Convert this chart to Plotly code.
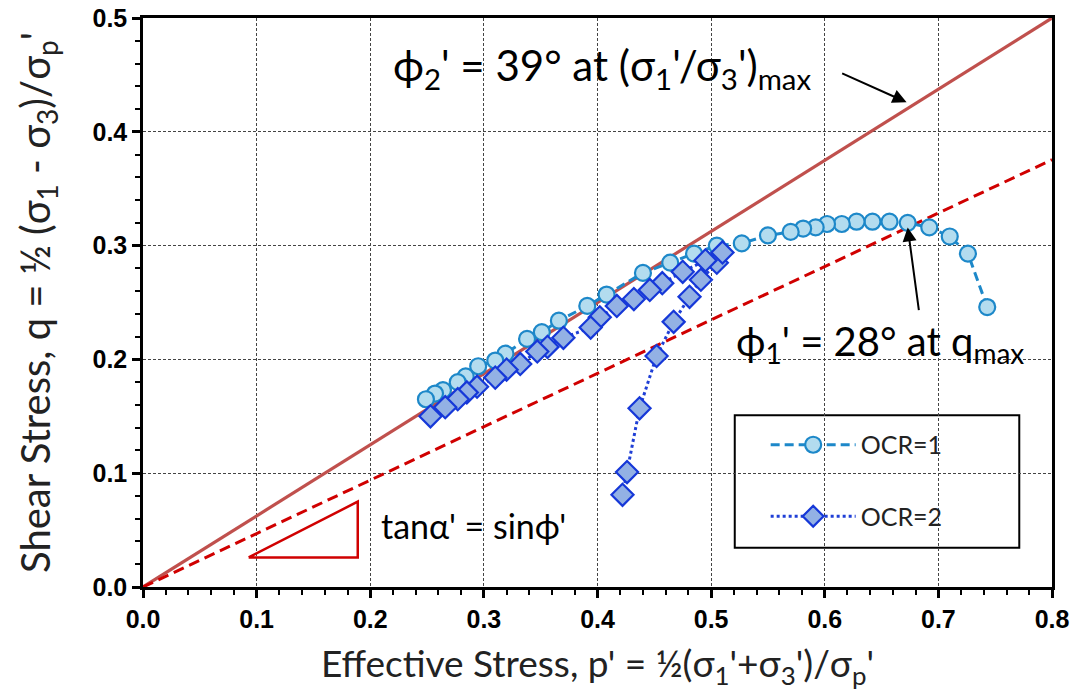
import plotly.graph_objects as go

# ---------------- data ----------------
ocr1_p = [0.743, 0.726, 0.710, 0.692, 0.673, 0.657, 0.642, 0.628, 0.615, 0.602, 0.592,
          0.581, 0.570, 0.550, 0.527, 0.505, 0.485, 0.464, 0.440, 0.408, 0.391, 0.366,
          0.351, 0.338, 0.319, 0.310, 0.295, 0.284, 0.277, 0.264, 0.257, 0.249]
ocr1_q = [0.246, 0.293, 0.308, 0.316, 0.320, 0.321, 0.321, 0.321, 0.319, 0.319, 0.316,
          0.315, 0.312, 0.309, 0.302, 0.300, 0.293, 0.285, 0.276, 0.257, 0.247, 0.234,
          0.224, 0.218, 0.205, 0.199, 0.194, 0.185, 0.180, 0.173, 0.170, 0.165]

ocr2_p = [0.422, 0.426, 0.437, 0.452, 0.467, 0.481, 0.491, 0.505, 0.510, 0.495, 0.475,
          0.457, 0.446, 0.432, 0.417, 0.402, 0.394, 0.370, 0.356, 0.347, 0.332, 0.320,
          0.310, 0.294, 0.285, 0.277, 0.266, 0.253]
ocr2_q = [0.081, 0.101, 0.157, 0.203, 0.233, 0.255, 0.270, 0.285, 0.294, 0.287, 0.277,
          0.267, 0.261, 0.253, 0.247, 0.237, 0.228, 0.219, 0.211, 0.207, 0.196, 0.191,
          0.184, 0.176, 0.171, 0.165, 0.158, 0.150]

env_p = [0.0, 0.8]
env2_q = [0.0, 0.5]     # phi2' = 39 deg line
env1_q = [0.0, 0.3755]  # phi1' = 28 deg line

tri_p = [0.093, 0.189, 0.189, 0.093]
tri_q = [0.026, 0.026, 0.075, 0.026]

x_ticks = [0.0, 0.1, 0.2, 0.3, 0.4, 0.5, 0.6, 0.7, 0.8]
y_ticks = [0.0, 0.1, 0.2, 0.3, 0.4, 0.5]

TXT = "Lato"

fig = go.Figure()

fig.add_trace(go.Scatter(x=env_p, y=env2_q, mode="lines", showlegend=False,
                         line=dict(color="#c0504d", width=3.2), hoverinfo="skip"))
fig.add_trace(go.Scatter(x=env_p, y=env1_q, mode="lines", showlegend=False,
                         line=dict(color="#d00000", width=3, dash="11px,6px"), hoverinfo="skip"))
fig.add_trace(go.Scatter(x=tri_p, y=tri_q, mode="lines", showlegend=False,
                         line=dict(color="#d00000", width=2.5), hoverinfo="skip"))

fig.add_trace(go.Scatter(x=ocr1_p, y=ocr1_q, mode="lines+markers", name="OCR=1",
                         legendgroup="a",
                         line=dict(color="#1d88c9", width=3, dash="9px,5px"),
                         marker=dict(symbol="circle", size=16, color="#b3dcef",
                                     line=dict(color="#1d88c9", width=2.2))))
fig.add_trace(go.Scatter(x=ocr2_p, y=ocr2_q, mode="lines+markers", name="OCR=2",
                         legendgroup="b",
                         line=dict(color="#1f3fd6", width=3, dash="dot"),
                         marker=dict(symbol="diamond", size=17, color="#93b1e4",
                                     line=dict(color="#1638d8", width=2.2))))

axis_common = dict(
    showline=True, linecolor="black", linewidth=2.5, mirror=True,
    ticks="outside", ticklen=8, tickwidth=2.5, tickcolor="black",
    showgrid=True, gridcolor="#444444", gridwidth=1, griddash="3px,2px",
    zeroline=False, ticklabeloverflow="allow",
    tickfont=dict(family="Liberation Sans", size=25, color="black", weight="bold"),
)

fig.update_xaxes(range=[0, 0.8], tickvals=x_ticks, ticktext=[f"{v:.1f}" for v in x_ticks],
                 minor=dict(dtick=0.02, ticks="outside", ticklen=5, tickwidth=2, tickcolor="black",
                            showgrid=False),
                 title_text="Effective Stress, p' = ½(σ<sub>1</sub>'+σ<sub>3</sub>')/σ<sub>p</sub>'",
                 title_font=dict(family=TXT, size=37, color="#222222"),
                 title_standoff=20, **axis_common)
fig.update_yaxes(range=[0, 0.5], tickvals=y_ticks, ticktext=[f"{v:.1f}" for v in y_ticks],
                 minor=dict(dtick=0.02, ticks="outside", ticklen=5, tickwidth=2, tickcolor="black",
                            showgrid=False),
                 title_text="Shear Stress, q = ½ (σ<sub>1</sub> - σ<sub>3</sub>)/σ<sub>p</sub>'",
                 title_font=dict(family=TXT, size=40, color="#222222"),
                 title_standoff=30, **axis_common)

# legend box
fig.add_shape(type="rect", xref="paper", yref="paper", x0=0.651, x1=0.964, y0=0.069, y1=0.302,
              line=dict(color="black", width=2), fillcolor="white", layer="below")

fig.update_layout(
    width=1072, height=692,
    margin=dict(l=134.5, r=28, t=10, b=113, autoexpand=False),
    paper_bgcolor="white", plot_bgcolor="white",
    showlegend=True,
    legend=dict(x=0.685, y=0.29, xanchor="left", yanchor="top",
                bgcolor="rgba(0,0,0,0)", borderwidth=0,
                font=dict(family=TXT, size=25, color="#222222"),
                tracegroupgap=36, itemwidth=85),
    font=dict(family=TXT),
)

fig.add_annotation(x=0.218, y=0.456, xref="x", yref="y", xanchor="left", yanchor="middle",
                   text="ϕ<sub>2</sub>' = 39° at (σ<sub>1</sub>'/σ<sub>3</sub>')<sub>max</sub>",
                   showarrow=False, font=dict(family=TXT, size=42, color="black"))
fig.add_annotation(x=0.672, y=0.426, ax=0.614, ay=0.452, xref="x", yref="y", axref="x", ayref="y",
                   text="", showarrow=True, arrowhead=2, arrowsize=1.4, arrowwidth=2, arrowcolor="black")

fig.add_annotation(x=0.52, y=0.214, xref="x", yref="y", xanchor="left", yanchor="middle",
                   text="ϕ<sub>1</sub>' = 28° at q<sub>max</sub>",
                   showarrow=False, font=dict(family=TXT, size=40, color="black"))
fig.add_annotation(x=0.673, y=0.316, ax=0.683, ay=0.242, xref="x", yref="y", axref="x", ayref="y",
                   text="", showarrow=True, arrowhead=2, arrowsize=1.4, arrowwidth=2, arrowcolor="black")

fig.add_annotation(x=0.208, y=0.054, xref="x", yref="y", xanchor="left", yanchor="middle",
                   text="tanα' = sinϕ'", showarrow=False,
                   font=dict(family=TXT, size=34, color="black"))

fig.write_html("out.html")
